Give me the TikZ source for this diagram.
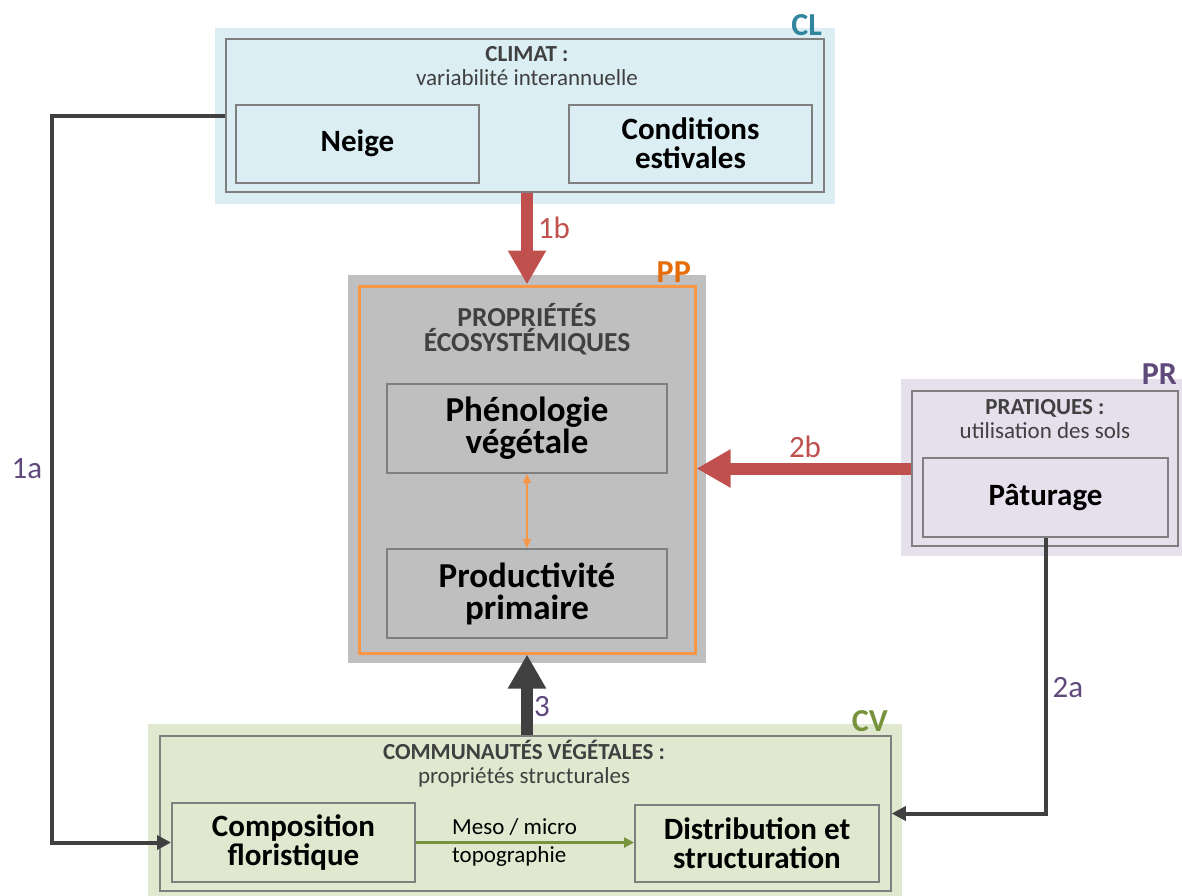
\documentclass[tikz,border=0pt]{standalone}
\usepackage{fontspec}
\setmainfont{Carlito}
\usetikzlibrary{arrows.meta,positioning,fit,backgrounds}
\definecolor{clfill}{HTML}{DBEEF4}
\definecolor{clcol}{HTML}{31859C}
\definecolor{ppfill}{HTML}{BFBFBF}
\definecolor{ppline}{HTML}{F79646}
\definecolor{ppcol}{HTML}{E46C0A}
\definecolor{prfill}{HTML}{E5E0EC}
\definecolor{prcol}{HTML}{604A7B}
\definecolor{cvfill}{HTML}{E0E9D0}
\definecolor{cvcol}{HTML}{77933C}
\definecolor{redarrow}{HTML}{C0504D}
\definecolor{darkarrow}{HTML}{404040}
\definecolor{framegray}{HTML}{7F7F7F}
\definecolor{headgray}{HTML}{404040}
\tikzset{>={Triangle[width=14pt,length=14pt]}}

\begin{document}
\begin{tikzpicture}[x=1pt,y=-1pt]
      \tikzstyle{bnode} = [rectangle, inner sep=0pt]
      \tikzstyle{frame} = [draw=framegray, line width=1.5pt, rectangle, inner sep=0pt]
      \tikzstyle{rnode} = [draw=framegray, line width=2pt, rectangle, inner sep=0pt, align=center, font=\bfseries\fontsize{31}{29}\selectfont]
      \tikzstyle{hnode} = [inner sep=0pt, align=center, text=headgray, font=\fontsize{23}{24}\selectfont]
      \tikzstyle{tag} = [inner sep=0pt, anchor=base east, font=\bfseries\fontsize{32}{32}\selectfont]
      \tikzstyle{num} = [inner sep=0pt, font=\fontsize{31}{31}\selectfont]
      \tikzstyle{bigarrow} = [line width=12pt, -{Triangle[width=36pt,length=34pt]}]
      \tikzstyle{thinarrow} = [draw=darkarrow, line width=4pt, ->]

      \useasboundingbox (0,0) rectangle (1182,895);

      % climat
      \node[bnode, fill=clfill, minimum width=620pt, minimum height=176pt] (clBox) at (525,116) {};
      \node[frame, minimum width=598pt, minimum height=153pt] (clFrame) at (525,115.5) {};
      \node[tag, text=clcol] (clTag) at (822,35) {CL};
      \node[hnode] (clHead) at (527,66) {{\bfseries CLIMAT :}\\ variabilité interannuelle};
      \node[rnode, minimum width=243pt, minimum height=78pt] (neige) at (357.5,143.5) {Neige};
      \node[rnode, minimum width=243pt, minimum height=78pt] (cond) at (690.5,143.5) {Conditions\\ estivales};

      % proprietes ecosystemiques
      \node[bnode, fill=ppfill, minimum width=358pt, minimum height=388pt] (ppBox) at (527,469) {};
      \node[bnode, draw=ppline, line width=3pt, minimum width=336pt, minimum height=367pt] (ppFrame) at (527,469.5) {};
      \node[tag, text=ppcol] (ppTag) at (691,282) {PP};
      \node[hnode, font=\bfseries\fontsize{27.5}{25}\selectfont] (ppHead) at (527,329.5) {PROPRIÉTÉS\\ ÉCOSYSTÉMIQUES};
      \node[rnode, minimum width=280pt, minimum height=89pt, font=\bfseries\fontsize{35}{32}\selectfont] (pheno) at (527,428.5) {Phénologie\\ végétale};
      \node[rnode, minimum width=280pt, minimum height=89pt, font=\bfseries\fontsize{35}{32}\selectfont] (prod) at (527,593.5) {Productivité\\ primaire};
      \draw[ppline, line width=1.5pt, {Triangle[width=8pt,length=9pt]}-{Triangle[width=8pt,length=9pt]}] (pheno) to (prod);

      % pratiques
      \node[bnode, fill=prfill, minimum width=289pt, minimum height=177pt] (prBox) at (1045.5,467.5) {};
      \node[frame, minimum width=266pt, minimum height=155pt] (prFrame) at (1045,468.5) {};
      \node[tag, text=prcol] (prTag) at (1177,384) {PR};
      \node[hnode] (prHead) at (1045,419.5) {{\bfseries PRATIQUES :}\\ utilisation des sols};
      \node[rnode, minimum width=245pt, minimum height=79pt] (patu) at (1045.5,497.5) {Pâturage};

      % communautes vegetales
      \node[bnode, fill=cvfill, minimum width=754pt, minimum height=176pt] (cvBox) at (525,812) {};
      \node[frame, minimum width=731pt, minimum height=155pt] (cvFrame) at (525.5,813.5) {};
      \node[tag, text=cvcol] (cvTag) at (888,731) {CV};
      \node[hnode] (cvHead) at (524,764) {{\bfseries COMMUNAUTÉS VÉGÉTALES :}\\ propriétés structurales};
      \node[rnode, minimum width=243pt, minimum height=79pt] (compo) at (293.5,842.5) {Composition\\ floristique};
      \node[rnode, minimum width=244pt, minimum height=77pt] (distri) at (757,843.5) {Distribution et\\ structuration};
      \node[inner sep=0pt, anchor=west, align=left, font=\fontsize{23}{28}\selectfont] (meso) at (452,842) {Meso / micro\\ topographie};
      \draw[cvcol, line width=3pt, -{Triangle[width=10pt,length=10pt]}] (compo.east) to (compo.east -| distri.west);

      % fleches
      \draw[bigarrow, redarrow] (clFrame.south -| ppBox.north) to (ppFrame.north);
      \node[num, text=redarrow] (l1b) at (554,228) {1b};
      \draw[bigarrow, redarrow] (prFrame.west) to (prFrame.west -| ppFrame.east);
      \node[num, text=redarrow] (l2b) at (805,447) {2b};
      \draw[bigarrow, darkarrow] (cvFrame.north -| ppBox.south) to (ppFrame.south);
      \node[num, text=prcol] (l3) at (542,707) {3};

      \coordinate (c1a) at (52,0);
      \draw[thinarrow] (clFrame.west) -- (clFrame.west -| c1a) -- (c1a |- compo.west) -- (compo.west);
      \node[num, text=prcol] (l1a) at (27,469) {1a};
      \draw[thinarrow] (patu.south) |- (cvFrame.east);
      \node[num, text=prcol] (l2a) at (1068,688) {2a};

    \end{tikzpicture}
\end{document}
